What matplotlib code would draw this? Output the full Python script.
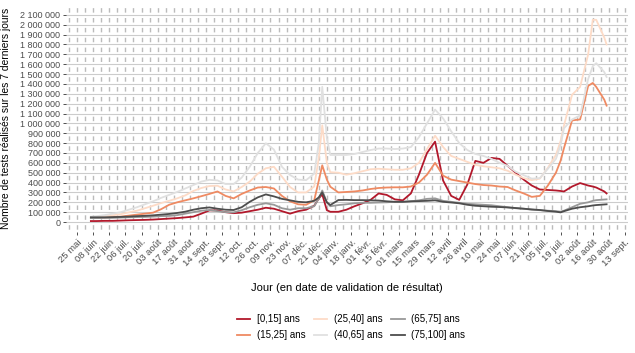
import matplotlib
matplotlib.use('Agg')
import matplotlib.pyplot as plt
import matplotlib.dates as mdates
import numpy as np
import pandas as pd

plt.rcParams['font.family'] = ['Liberation Sans', 'DejaVu Sans']
plt.rcParams['lines.scale_dashes'] = False

# ---------------- data (values in thousands of tests, 7-day sums) ----------------
dates = pd.to_datetime([
    '2020-06-06', '2020-06-11', '2020-06-18', '2020-06-25', '2020-07-02', '2020-07-09',
    '2020-07-16', '2020-07-23', '2020-07-30', '2020-08-06', '2020-08-13', '2020-08-20',
    '2020-08-27', '2020-09-03', '2020-09-10', '2020-09-17', '2020-09-24', '2020-10-01',
    '2020-10-08', '2020-10-15', '2020-10-22', '2020-10-29', '2020-11-05', '2020-11-12',
    '2020-11-19', '2020-11-26', '2020-12-03', '2020-12-10', '2020-12-17', '2020-12-21',
    '2020-12-24', '2020-12-28', '2020-12-31', '2021-01-07', '2021-01-14', '2021-01-21',
    '2021-01-28', '2021-02-04', '2021-02-11', '2021-02-18', '2021-02-25', '2021-03-04',
    '2021-03-11', '2021-03-18', '2021-03-25', '2021-04-01', '2021-04-08', '2021-04-15',
    '2021-04-22', '2021-04-29', '2021-05-06', '2021-05-13', '2021-05-20', '2021-05-27',
    '2021-06-03', '2021-06-10', '2021-06-17', '2021-06-24', '2021-07-01', '2021-07-08',
    '2021-07-15', '2021-07-19', '2021-07-22', '2021-07-29', '2021-08-05', '2021-08-12',
    '2021-08-16', '2021-08-19', '2021-08-26', '2021-08-28'])

age_0_15 = [10, 10, 12, 12, 15, 18, 20, 22, 25, 30,
            35, 40, 47, 55, 85, 118, 118, 100, 90, 95,
            110, 125, 145, 135, 110, 85, 110, 125, 165, 240,
            280, 120, 104, 104, 125, 160, 190, 225, 290, 275,
            230, 220, 290, 480, 700, 815, 420, 265, 225, 380,
            620, 600, 650, 640, 570, 500, 430, 370, 330, 325,
            320, 315, 310, 360, 395, 370, 360, 350, 310, 290]

age_15_25 = [40, 42, 45, 50, 55, 65, 75, 85, 95, 130,
             175, 200, 220, 240, 262, 285, 310, 265, 240, 285,
             320, 350, 355, 340, 265, 210, 180, 175, 220, 420,
             575, 430, 358, 300, 305, 310, 320, 335, 345, 350,
             352, 352, 360, 400, 480, 600, 470, 430, 415, 400,
             385, 375, 370, 360, 355, 320, 290, 255, 265, 370,
             500, 620, 750, 1030, 1040, 1380, 1410, 1370, 1240, 1180]

age_25_40 = [45, 50, 58, 68, 80, 98, 115, 140, 165, 192,
             215, 240, 270, 315, 345, 365, 368, 330, 310, 355,
             410, 490, 545, 560, 460, 355, 300, 300, 360, 650,
             980, 600, 505, 500, 480, 495, 515, 535, 540, 535,
             530, 530, 545, 600, 740, 875, 760, 670, 640, 610,
             580, 565, 555, 545, 520, 480, 445, 425, 440, 550,
             680, 820, 980, 1290, 1370, 1700, 2050, 2050, 1870, 1800]

age_40_65 = [55, 60, 70, 85, 100, 125, 150, 180, 210, 245,
             275, 305, 340, 375, 410, 428, 422, 385, 385, 450,
             560, 700, 798, 735, 560, 477, 430, 425, 490, 800,
             1370, 850, 680, 680, 680, 690, 710, 730, 745, 745,
             740, 745, 760, 860, 1000, 1140, 1050, 920, 800, 730,
             690, 670, 640, 600, 570, 510, 475, 440, 445, 540,
             640, 780, 950, 1040, 1080, 1450, 1580, 1610, 1520, 1470]

age_65_75 = [40, 40, 42, 42, 45, 48, 50, 52, 55, 60,
             62, 70, 85, 100, 115, 122, 110, 100, 98, 120,
             150, 175, 190, 175, 140, 125, 140, 140, 160, 240,
             320, 200, 160, 172, 180, 190, 195, 195, 198, 200,
             205, 205, 210, 220, 235, 240, 215, 205, 195, 185,
             180, 175, 170, 160, 150, 140, 135, 125, 120, 115,
             110, 105, 115, 150, 185, 200, 215, 222, 228, 230]

age_75_100 = [48, 48, 48, 50, 52, 55, 60, 63, 68, 75,
              82, 92, 105, 125, 140, 148, 135, 125, 122, 150,
              205, 250, 280, 260, 235, 220, 205, 200, 215, 250,
              300, 200, 172, 223, 225, 222, 222, 220, 218, 210,
              205, 205, 210, 212, 215, 220, 205, 198, 190, 175,
              165, 160, 155, 152, 148, 142, 135, 128, 122, 112,
              105, 98, 110, 135, 150, 160, 168, 172, 178, 180]

series_labels = ['[0,15] ans', '(15,25] ans', '(25,40] ans',
                 '(40,65] ans', '(65,75] ans', '(75,100] ans']
series_values = [age_0_15, age_15_25, age_25_40, age_40_65, age_65_75, age_75_100]
series_colors = ['#b2182b', '#ef8a62', '#fddbc7', '#e0e0e0', '#999999', '#4d4d4d']

x_tick_start = '2020-05-25'
x_tick_labels = ['25 mai', '08 juin', '22 juin', '06 juil.', '20 juil.', '03 août',
                 '17 août', '31 août', '14 sept.', '28 sept.', '12 oct.', '26 oct.',
                 '09 nov.', '23 nov.', '07 déc.', '21 déc.', '04 janv.', '18 janv.',
                 '01 févr.', '15 févr.', '01 mars', '15 mars', '29 mars', '12 avril',
                 '26 avril', '10 mai', '24 mai', '07 juin', '21 juin', '05 juil.',
                 '19 juil.', '02 août', '16 août', '30 août', '13 sept.']
y_ticks_k = list(range(0, 2200, 100))

# ---------------- figure ----------------
W, H = 635, 353
fig = plt.figure(figsize=(W / 100, H / 100), dpi=100)
ax = fig.add_axes([66 / W, 1 - 232 / H, (628 - 66) / W, (232 - 5) / H])

xt = pd.date_range(x_tick_start, periods=len(x_tick_labels), freq='14D')
x0 = mdates.date2num(xt[0]) - 9.6
x1 = mdates.date2num(xt[-1]) + 2.6
ax.set_xlim(x0, x1)
ax.set_ylim(-101, 2200)

# grid
for v in y_ticks_k:
    ax.axhline(v, color='#cccccc', lw=0.8, zorder=1)
px_per_k = 227 / 2301.0  # pixels per thousand
period = 100 * px_per_k
on = 4.5
off = period - on
offset = (-(10.0 + 0.5 * (period - on))) % period
for d in pd.date_range('2020-05-18', '2021-09-13', freq='7D'):
    ax.axvline(mdates.date2num(d), color='#bbbbbb', lw=1.0, zorder=1,
               linestyle=(offset * 0.72, (on * 0.72, off * 0.72)),
               dash_capstyle='butt')

for vals, lab, col in zip(series_values, series_labels, series_colors):
    ax.plot(dates, vals, color=col, lw=1.3, label=lab, zorder=3,
            solid_joinstyle='round')

ax.set_xticks(mdates.date2num(xt))
ax.set_xticklabels(x_tick_labels, rotation=45, ha='right', va='top',
                   rotation_mode='anchor', fontsize=6.8, color='#4d4d4d')
ax.set_yticks(y_ticks_k)
ax.set_yticklabels([f"{v * 1000:,}".replace(',', ' ') for v in y_ticks_k],
                   fontsize=6.5, color='#4d4d4d')
ax.tick_params(axis='both', length=2.5, width=0.6, color='#333333', pad=1.5)
for s in ax.spines.values():
    s.set_visible(False)

ax.set_ylabel('Nombre de tests réalisés sur les 7 derniers jours', fontsize=7.4,
              color='black')
ax.yaxis.set_label_coords(-(66 - 11) / (628 - 66), 0.5)
fig.text(347 / W, 1 - 288 / H, 'Jour (en date de validation de résultat)',
         ha='center', va='center', fontsize=8, color='black')

handles, labels = ax.get_legend_handles_labels()
fig.legend(handles, labels, ncol=3, loc='center', bbox_to_anchor=(351 / W, 1 - 327 / H),
           frameon=False, fontsize=7, handlelength=1.35, handletextpad=0.7,
           columnspacing=0.9, labelspacing=0.6, borderpad=0)

fig.savefig('out.png', dpi=100, facecolor='white')
